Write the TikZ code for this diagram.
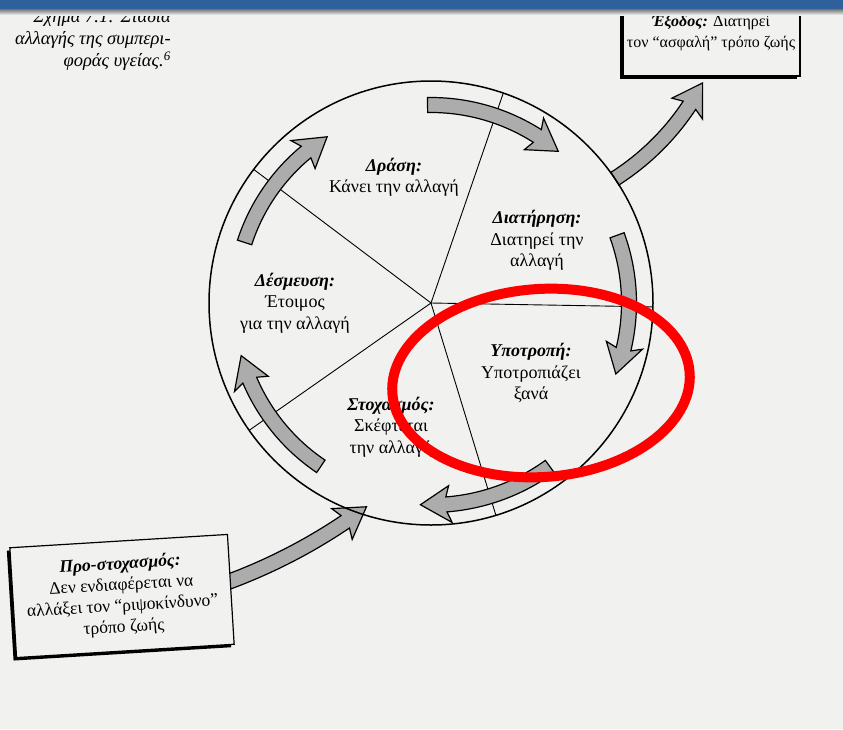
\documentclass[tikz,border=0pt]{standalone}
\usepackage{fontspec}
\setmainfont{Liberation Serif}
\usetikzlibrary{shadows,calc}
\definecolor{bg}{RGB}{241,241,240}
\definecolor{arrowgray}{RGB}{172,172,172}
\definecolor{barblue}{RGB}{46,96,156}
\newcommand\aBw{7.5}
\newcommand\aBh{18.5}
\newcommand\aBlen{26}
\newcommand\aBsweep{4}
% #1 cx, #2 cy, #3 radius, #4 tail angle, #5 tip angle
\newcommand\circarrow[5]{%
  \begin{scope}[shift={(#1,#2)}]
    \pgfmathsetmacro\aSg{(#4>#5)?1:-1}
    \pgfmathsetmacro\aAb{#5+\aSg*\aBlen/#3*180/pi}
    \pgfmathsetmacro\aAbb{#5+\aSg*(\aBlen+\aBsweep)/#3*180/pi}
    \pgfmathsetmacro\aAo{#3+\aBw}
    \pgfmathsetmacro\aAi{#3-\aBw}
    \pgfmathsetmacro\aHo{#3+\aBh}
    \pgfmathsetmacro\aHi{#3-\aBh}
    \draw[arrowstyle] (#4:\aAo) arc[start angle=#4, end angle=\aAb, radius=\aAo pt]
      -- (\aAbb:\aHo) -- (#5:#3) -- (\aAbb:\aHi) -- (\aAb:\aAi)
      arc[start angle=\aAb, end angle=#4, radius=\aAi pt] -- cycle;
  \end{scope}}
\begin{document}
\begin{tikzpicture}[x=1pt,y=1pt,
  arrowstyle/.style={draw=black, line width=1.2pt, fill=arrowgray, line join=miter},
  lbl/.style={font=\fontsize{18}{21.5}\selectfont, align=center, inner sep=0pt},
  boxstyle/.style={draw=black, line width=1.2pt, fill=bg, align=center,
    font=\fontsize{17.5}{21}\selectfont, inner sep=2pt,
    drop shadow={shadow xshift=-3pt, shadow yshift=-3pt, opacity=1, fill=black}},
  spoke/.style={line width=0.9pt}]
\useasboundingbox (0,0) rectangle (843,-729);
\fill[bg] (0,0) rectangle (843,-729);
\coordinate (c) at (431,-303);
% spokes
\foreach \a [count=\i] in {143,71,-1,-73,-145} {
  \coordinate (s\i) at ($(c)+(\a:222)$);
  \draw[spoke] (c) -- (s\i);
}
% exterior arrows
\circarrow{480}{33}{251}{-57.5}{-27.5}
\circarrow{36}{-63.4}{553}{-70.5}{-53.3}
% main circle
\draw[line width=1.5pt] (c) circle[radius=222pt];
% interior arrows
\circarrow{431}{-303}{197}{-124}{-164.5}
\circarrow{431}{-303}{196}{162}{122}
\circarrow{431}{-303}{198}{91}{50}
\circarrow{431}{-303}{198}{20}{-21}
\circarrow{431}{-303}{202}{-54}{-93}
% stage labels
\node[lbl] (drasi) at (394,-177.5) {\textbf{\textit{Δράση:}}\\Κάνει την αλλαγή};
\node[lbl] (diatirisi) at (537,-240.5) {\textbf{\textit{Διατήρηση:}}\\Διατηρεί την\\αλλαγή};
\node[lbl] (desmeusi) at (295,-303) {\textbf{\textit{Δέσμευση:}}\\Έτοιμος\\για την αλλαγή};
\node[lbl] (ypotropi) at (531,-373) {\textbf{\textit{Υποτροπή:}}\\Υποτροπιάζει\\ξανά};
\node[lbl] (stochasmos) at (391,-427) {\textbf{\textit{Στοχασμός:}}\\Σκέφτεται\\την αλλαγή};
% boxes
\node[boxstyle, rotate=3.5, minimum width=218, minimum height=110] (pre) at (122,-596)
  {\textbf{\textit{Προ-στοχασμός:}}\\Δεν ενδιαφέρεται να\\αλλάξει τον “ριψοκίνδυνο”\\τρόπο ζωής};
\node[boxstyle, minimum width=177, minimum height=79] (exodos) at (711.5,-36.5)
  {};
\node[lbl, font=\fontsize{16}{21}\selectfont] (exodostext) at (711,-33)
  {\textbf{\textit{Έξοδος:}} Διατηρεί\\τον “ασφαλή” τρόπο ζωής};
% caption
\node[lbl, align=right, anchor=east, font=\fontsize{18.5}{22}\selectfont\itshape] (caption) at (171,-40)
  {Σχήμα 7.1: Στάδια\\αλλαγής της συμπερι-\\φοράς υγείας.\textsuperscript{6}};
% red highlight
\draw[red, line width=10pt, rotate around={4:(541,-383)}] (541,-383) ellipse[x radius=149pt, y radius=94pt];
% top bar
\shade[top color=black!55, bottom color=bg] (0,-9) rectangle (843,-15);
\fill[barblue] (0,0) rectangle (843,-9);
\end{tikzpicture}
\end{document}
